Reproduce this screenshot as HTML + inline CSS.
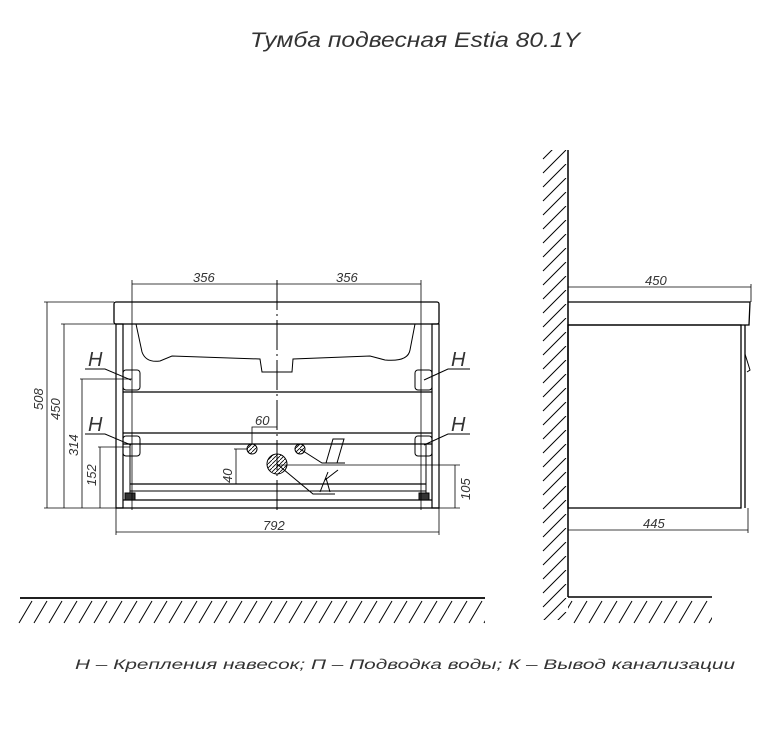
<!DOCTYPE html>
<html><head><meta charset="utf-8"><style>
html,body{margin:0;padding:0;background:#fff;}
svg{display:block}
text{font-family:"Liberation Sans",sans-serif;font-style:italic;fill:#333}
</style></head><body>
<svg width="781" height="743" viewBox="0 0 781 743" xmlns="http://www.w3.org/2000/svg">
<defs>
<pattern id="h" width="4" height="4" patternUnits="userSpaceOnUse">
<line x1="0" y1="4" x2="4" y2="0" stroke="#000" stroke-width="0.8"/>
</pattern>
<pattern id="hf" x="18" y="600" width="15" height="24" patternUnits="userSpaceOnUse">
<line x1="1" y1="23" x2="14" y2="1" stroke="#000" stroke-width="1"/>
</pattern>
<pattern id="hw" x="540" y="150" width="28" height="14" patternUnits="userSpaceOnUse">
<line x1="3" y1="23" x2="26" y2="0" stroke="#000" stroke-width="1"/>
<line x1="3" y1="9" x2="26" y2="-14" stroke="#000" stroke-width="1"/>
</pattern>
</defs>
<text x="415" y="47" font-size="21" text-anchor="middle" textLength="330" lengthAdjust="spacingAndGlyphs">Тумба подвесная Estia 80.1Y</text>

<g stroke="#000" fill="none" stroke-width="1">
<rect x="114" y="302" width="325" height="22" rx="2" stroke-width="1.3"/>
<rect x="116" y="324" width="7" height="184" stroke-width="1.2"/>
<rect x="432" y="324" width="7" height="184" stroke-width="1.2"/>
<line x1="116" y1="508" x2="439" y2="508" stroke-width="1.3"/>
<path d="M136 324 L142 352 Q146 363 160 361 L172 356 Q200 357 260 359 L262 372 L292 372 L293 359 L370 356 L385 360 Q408 362 410 350 L415 324"/>
<line x1="123" y1="392" x2="432" y2="392" stroke-width="1.3"/>
<line x1="123" y1="433" x2="432" y2="433" stroke-width="1.3"/>
<line x1="123" y1="444" x2="432" y2="444" stroke-width="1.3"/>
<line x1="130" y1="484" x2="426" y2="484" stroke-width="1.3"/>
<line x1="130" y1="491" x2="426" y2="491"/>
<line x1="123" y1="500" x2="432" y2="500" stroke-width="1.2"/>
<line x1="130" y1="444" x2="130" y2="500"/>
<line x1="426" y1="444" x2="426" y2="500"/>
<rect x="123" y="370" width="17" height="20" rx="3"/>
<rect x="415" y="370" width="17" height="20" rx="3"/>
<rect x="123" y="436" width="17" height="20" rx="3"/>
<rect x="415" y="436" width="17" height="20" rx="3"/>
<rect x="125" y="493" width="10" height="7" fill="#333"/>
<rect x="419" y="493" width="10" height="7" fill="#333"/>
<line x1="277" y1="280" x2="277" y2="512" stroke-dasharray="30 4 2 4"/>
<circle cx="252" cy="449" r="5" fill="url(#h)"/>
<circle cx="300" cy="449" r="5" fill="url(#h)"/>
<circle cx="277" cy="464" r="10" fill="url(#h)"/>
<polyline points="85,369 105,369 131,380"/>
<polyline points="85,434 105,434 131,445"/>
<polyline points="470,369 448,369 424,380"/>
<polyline points="470,434 448,434 424,445"/>
<polyline points="300,449 322,463 345,463"/>
<polyline points="277,464 313,494 335,494"/>
<path d="M326 463 L333 439 L344 439 L337 463"/>
<path d="M320 492 L328 472 M325 480 L338 470 M326 478 L330 492"/>
<line x1="132" y1="284" x2="421" y2="284" stroke-width="0.8"/>
<line x1="132" y1="280" x2="132" y2="510" stroke-width="0.8"/>
<line x1="421" y1="280" x2="421" y2="510" stroke-width="0.8"/>
<line x1="47" y1="302" x2="47" y2="508" stroke-width="0.8"/>
<line x1="44" y1="302" x2="114" y2="302" stroke-width="0.8"/>
<line x1="64" y1="324" x2="64" y2="508" stroke-width="0.8"/>
<line x1="61" y1="324" x2="116" y2="324" stroke-width="0.8"/>
<line x1="82" y1="379" x2="82" y2="508" stroke-width="0.8"/>
<line x1="80" y1="379" x2="132" y2="379" stroke-width="0.8"/>
<line x1="100" y1="447" x2="100" y2="508" stroke-width="0.8"/>
<line x1="98" y1="447" x2="130" y2="447" stroke-width="0.8"/>
<line x1="44" y1="508" x2="116" y2="508" stroke-width="0.8"/>
<line x1="116" y1="508" x2="116" y2="535" stroke-width="0.8"/>
<line x1="439" y1="508" x2="439" y2="535" stroke-width="0.8"/>
<line x1="116" y1="532" x2="439" y2="532" stroke-width="0.8"/>
<line x1="455" y1="465" x2="455" y2="508" stroke-width="0.8"/>
<line x1="277" y1="465" x2="460" y2="465" stroke-width="0.8"/>
<line x1="439" y1="508" x2="460" y2="508" stroke-width="0.8"/>
<polyline points="252,444 252,427 277,427" stroke-width="0.8"/>
<line x1="236" y1="449" x2="236" y2="484" stroke-width="0.8"/>
<line x1="234" y1="449" x2="248" y2="449" stroke-width="0.8"/>
<line x1="20" y1="598" x2="485" y2="598" stroke-width="1.8"/>
<rect x="18" y="600" width="467" height="24" fill="url(#hf)" stroke="none"/>
<line x1="568" y1="150" x2="568" y2="597" stroke-width="1.5"/>
<rect x="540" y="150" width="27" height="470" fill="url(#hw)" stroke="none"/>
<line x1="568" y1="597" x2="712" y2="597" stroke-width="1.5"/>
<rect x="568" y="600" width="144" height="24" fill="url(#hf)" stroke="none"/>
<path d="M568 302 L750 302 L749 325 L568 325" stroke-width="1.3"/>
<rect x="568" y="325" width="173" height="183" stroke-width="1.3"/>
<line x1="741" y1="325" x2="741" y2="508"/>
<line x1="745" y1="325" x2="745" y2="508" stroke-width="1.3"/>
<path d="M745 354 L750 370 L747 372"/>
<line x1="568" y1="287" x2="751" y2="287" stroke-width="0.8"/>
<line x1="751" y1="284" x2="751" y2="302" stroke-width="0.8"/>
<line x1="568" y1="530" x2="748" y2="530" stroke-width="0.8"/>
<line x1="748" y1="508" x2="748" y2="533" stroke-width="0.8"/>
</g>
<g font-size="13">
<text x="193" y="282">356</text>
<text x="336" y="282">356</text>
<text x="263" y="530">792</text>
<text transform="translate(43,410) rotate(-90)">508</text>
<text transform="translate(60,420) rotate(-90)">450</text>
<text transform="translate(78,456) rotate(-90)">314</text>
<text transform="translate(96,486) rotate(-90)">152</text>
<text transform="translate(232,483) rotate(-90)">40</text>
<text transform="translate(470,500) rotate(-90)">105</text>
<text x="255" y="425">60</text>
<text x="645" y="285">450</text>
<text x="643" y="528">445</text>
</g>
<g font-size="20">
<text x="88" y="366">H</text>
<text x="88" y="431">H</text>
<text x="451" y="366">H</text>
<text x="451" y="431">H</text>
</g>
<text x="405" y="669" font-size="14" text-anchor="middle" textLength="660" lengthAdjust="spacingAndGlyphs" fill="#444">Н  –  Крепления навесок;  П  –  Подводка воды;  К  –  Вывод канализации</text>
</svg>
</body></html>
